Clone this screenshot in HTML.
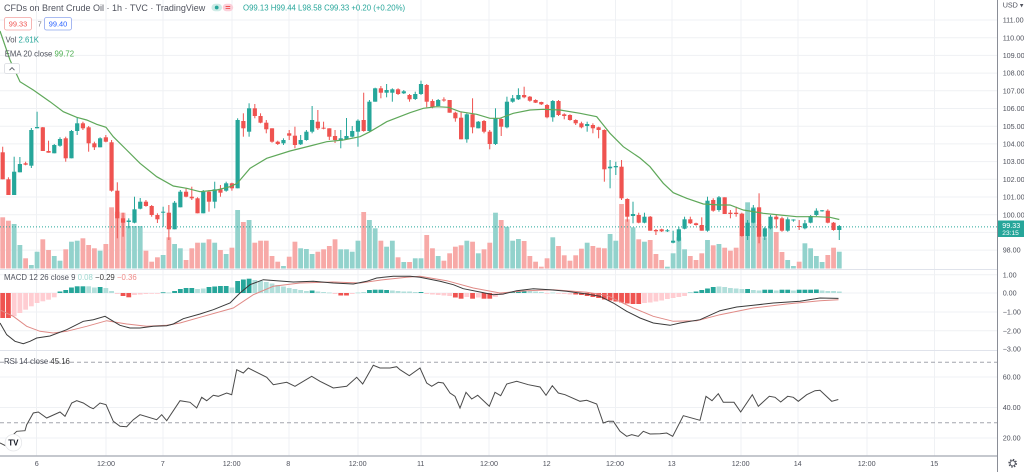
<!DOCTYPE html>
<html><head><meta charset="utf-8">
<style>
html,body{margin:0;padding:0;background:#fff;width:1024px;height:472px;overflow:hidden;}
svg{position:absolute;left:0;top:0;font-family:"Liberation Sans",Arial,sans-serif;}
.ax{font-size:7.2px;fill:#50535e;}
.lg{font-size:7.8px;fill:#50535e;}
</style></head>
<body>
<svg width="1024" height="472" viewBox="0 0 1024 472" xmlns="http://www.w3.org/2000/svg">
<rect x="0" y="0" width="1024" height="472" fill="#fff"/>
<!-- grid -->
<g stroke="#eff1f4" stroke-width="1">
<path d="M36.5 0V456M106 0V456M163 0V456M232 0V456M289 0V456M358 0V456M421 0V456M489 0V456M547 0V456M615.5 0V456M672 0V456M741 0V456M798 0V456M867 0V456M934.5 0V456"/>
<path d="M0 20H997M0 37.7H997M0 55.4H997M0 73.1H997M0 90.8H997M0 108.5H997M0 126.2H997M0 143.9H997M0 161.6H997M0 179.3H997M0 197H997M0 214.7H997M0 232.4H997M0 250.1H997"/>
<path d="M0 274.7H997M0 293H997M0 312H997M0 330.7H997M0 377H997M0 407.5H997M0 438H997"/>
</g>
<!-- pane separators -->
<path d="M0 269.5H997M0 350.5H997" stroke="#e0e3eb" stroke-width="1"/>
<!-- volume -->
<g id="vol"></g>
<!-- price line -->
<path d="M0 226.9H997" stroke="#26a69a" stroke-width="1" stroke-dasharray="1 2"/>
<!-- candles -->
<g id="cdl"></g>
<!-- EMA -->
<polyline fill="none" stroke="#5fa85a" stroke-width="1.2" points="0,31 10,60 20,81.7 33.3,90 50,101.7 63.3,111.7 76.7,117.3 86.7,120 96.7,124.3 106,127.3 113.3,136.7 126.7,150 140,163.3 156.7,176.7 173.3,186 186.7,188.3 200,191.7 216.7,190 230,186.7 237.3,183.3 250,168.3 266.7,158.3 290,151 310,146 326.7,141.7 343.3,140 360,136.7 370,131.7 386.7,121.7 410,112.7 423.3,108.3 436.7,106.7 448.3,107.3 460,111.7 476.7,114.3 490,118.3 500,118.3 513.3,113.3 530,110 543.3,109.3 560,110 580,113.3 596.7,116.7 610,133.3 623.3,146.7 640,158 650,166.7 663.3,183.3 673.3,192.7 686.7,198.3 703.3,204 720,205 730,205 743.3,210 763.3,213.3 780,215 796.7,216.7 816.7,216.7 830,217.3 839.3,219.5"/>
<!-- MACD histogram -->
<g id="hist"></g>
<polyline fill="none" stroke="#e08a86" stroke-width="1" points="0,310 13.3,316.3 26.7,326.3 40,331.3 53.3,333 66.7,331.3 86.7,326.3 106.7,320.7 126.7,324 146.7,326.3 166.7,325.3 180,323 200,317.3 233.3,308 253.3,294.7 273.3,286.3 300,283 333.3,282 360,283 383.3,279.7 406.7,277.3 420,276.3 446.7,280.7 473.3,288 500,293 526.7,290.7 553.3,289.7 586.7,292.3 606.7,295.3 633.3,308 653.3,316.3 673.3,321.3 696.7,320.7 720,314.7 753.3,308 786.7,304 820,300.7 838.5,299.7"/>
<polyline fill="none" stroke="#3a3a3a" stroke-width="1" points="0,323 6.7,334.7 15,341.3 23.3,343.7 30,341.3 36.7,338 50,336 66.7,329.7 83.3,321.3 93.3,319.7 105,316.3 113.3,321.3 120,325.3 130,328 140,328 153.3,326.3 166.7,325.7 173.3,324 183.3,318.7 200,314 213.3,309.7 230,303 240,293 250,284.7 263.3,279.7 276.7,280.7 293.3,282 313.3,281.3 333.3,283 353.3,284 366.7,281.3 376.7,278 393.3,276.3 410,276.3 420,277.3 440,281.3 453.3,284.7 463.3,288.7 480,292 493.3,294.7 503.3,294 516.7,290.7 533.3,288.7 550,289.7 566.7,291.3 586.7,294 600,296.3 613.3,303 626.7,311.3 640,318 653.3,323 670,325.3 680,323 700,319.7 720,310.7 736.7,307 753.3,305.3 773.3,303 800,301.3 820,298 838.5,298.4"/>
<!-- RSI -->
<path d="M0 362.3H997M0 422.7H997" stroke="#a3a6ae" stroke-width="1" stroke-dasharray="4 3"/>
<polyline fill="none" stroke="#4a4a4a" stroke-width="1" points="0,443 6.7,446.3 13.3,434.7 16.7,431.3 25,430.7 26.7,424.7 33.3,413 38.3,412 46.7,418 60,412 65,416.3 71.7,403 76.7,400.7 83.3,403 90,407.3 93.3,408.7 100,403 106,404.7 113.3,421.3 120,426.3 126.7,426.7 133.3,419.7 140,414.7 156.7,419.7 161.7,414.7 166.7,420.7 180,400.7 190,402.3 196.7,408 201.7,397.3 206.7,400.7 213.3,395.3 218.3,396.3 226.7,393 231.7,394.7 236.7,369.7 243.3,373 248.3,368 266.7,377.3 273.3,384.7 286.7,382.3 295,386.3 311.7,376.3 320,381.3 333.3,388 346.7,386.3 356.7,377.3 362.7,384 373.3,365.3 380,368 390,368 396.7,366.7 400,369.7 409.3,375.7 420,368 426.7,383 431.7,386.3 438.3,382.3 443.3,383 450,393 455,396.3 460,408 466,392.3 471.7,399 477.7,395.3 489.3,406.3 495,392.3 500.7,395.7 506.7,384 516.7,381.3 528.3,384.7 540,387 546,395.3 552.3,385.7 558.3,393 565,394.7 580,401.3 586.7,400.3 596.7,404 603.3,423 608.3,421.3 613.3,421.3 620,431.3 626.7,436.3 631.7,434.7 638.3,436.3 643.3,431.3 650,434 660,433.7 666.7,433 672.7,436.3 683.3,415.7 700,420.3 706,396.3 712,400.7 718.3,393.7 723.3,402.3 734,402.3 740.7,412 752.3,394.7 758.3,406.3 769.3,396.3 775,397.3 780.7,402 787.7,396.3 793.3,397.3 798.3,401.3 806.7,394.7 815,390.7 820,390.3 831.7,401.3 838.3,399.5"/>

<!-- axes -->
<path d="M997.5 0V472" stroke="#8a8d96" stroke-width="1"/>
<path d="M0 456H997" stroke="#b2b5be" stroke-width="1.5"/>

<!-- right axis labels -->
<g class="ax">
<text x="1002.7" y="7.5">USD ▾</text>
<text x="1002.7" y="22.6">111.00</text>
<text x="1002.7" y="40.3">110.00</text>
<text x="1002.7" y="58">109.00</text>
<text x="1002.7" y="75.7">108.00</text>
<text x="1002.7" y="93.4">107.00</text>
<text x="1002.7" y="111.1">106.00</text>
<text x="1002.7" y="128.8">105.00</text>
<text x="1002.7" y="146.5">104.00</text>
<text x="1002.7" y="164.2">103.00</text>
<text x="1002.7" y="181.9">102.00</text>
<text x="1002.7" y="199.6">101.00</text>
<text x="1002.7" y="217.3">100.00</text>
<text x="1002.7" y="252.7">98.00</text>
<text x="1002.7" y="277.3">1.00</text>
<text x="1002.7" y="295.6">0.00</text>
<text x="1002.7" y="314.6">−1.00</text>
<text x="1002.7" y="333.3">−2.00</text>
<text x="1002.7" y="351.5">−3.00</text>
<text x="1002.7" y="379.6">60.00</text>
<text x="1002.7" y="410.1">40.00</text>
<text x="1002.7" y="440.6">20.00</text>
</g>
<rect x="998" y="220.5" width="26" height="16.5" fill="#26a69a"/>
<text x="1002.3" y="228.2" font-size="7.2" fill="#fff">99.33</text>
<text x="1002.3" y="234.8" font-size="6.6" fill="#fff">23:15</text>

<!-- time axis -->
<g class="ax" text-anchor="middle">
<text x="36.7" y="466">6</text>
<text x="106" y="466">12:00</text>
<text x="162.7" y="466">7</text>
<text x="231.7" y="466">12:00</text>
<text x="288.3" y="466">8</text>
<text x="357.7" y="466">12:00</text>
<text x="420.7" y="466">11</text>
<text x="489" y="466">12:00</text>
<text x="546.7" y="466">12</text>
<text x="615" y="466">12:00</text>
<text x="671.7" y="466">13</text>
<text x="740.7" y="466">12:00</text>
<text x="797.7" y="466">14</text>
<text x="866.7" y="466">12:00</text>
<text x="934.3" y="466">15</text>
</g>
<!-- gear -->
<circle cx="1012.7" cy="463.3" r="3.6" fill="none" stroke="#50535e" stroke-width="1.6" stroke-dasharray="1.4 1.43"/>
<circle cx="1012.7" cy="463.3" r="2.6" fill="none" stroke="#50535e" stroke-width="0.9"/>

<!-- TV logo -->
<circle cx="13.4" cy="442.7" r="8.3" fill="#fff" stroke="#e6e7ea" stroke-width="0.8"/>
<text x="13.4" y="445.6" font-size="8" font-weight="bold" fill="#131722" text-anchor="middle">TV</text>

<!-- top legend -->
<text x="4" y="11" font-size="9" fill="#50535e">CFDs on Brent Crude Oil · 1h · TVC · TradingView</text>
<rect x="211.5" y="3.8" width="10.5" height="7.4" rx="3.7" fill="#cdebe6"/>
<circle cx="216.7" cy="7.5" r="1.9" fill="#26a69a"/>
<rect x="222.7" y="3.8" width="10.5" height="7.4" rx="3.7" fill="#fbd0da"/>
<path d="M225.6 6.5H230.2M225.6 8.6H230.2" stroke="#ef5350" stroke-width="0.9"/>
<text x="243" y="10.5" font-size="7.8" fill="#26a69a">O99.13 H99.44 L98.58 C99.33 +0.20 (+0.20%)</text>

<rect x="4.5" y="17.5" width="27" height="12.5" rx="2" fill="#fff" stroke="#f3a3a1" stroke-width="0.8"/>
<text x="18" y="26.4" font-size="7.4" fill="#ef5350" text-anchor="middle">99.33</text>
<text x="37.6" y="26.4" font-size="7.4" fill="#787b86">7</text>
<rect x="44.5" y="17.5" width="27" height="12.5" rx="2" fill="#fff" stroke="#8fa6ee" stroke-width="0.8"/>
<text x="58" y="26.4" font-size="7.4" fill="#2962ff" text-anchor="middle">99.40</text>

<text class="lg" x="5.5" y="42.7">Vol <tspan fill="#26a69a">2.61K</tspan></text>
<text class="lg" x="4.7" y="56.7">EMA 20 close <tspan fill="#4caf50">99.72</tspan></text>
<rect x="4.5" y="63.5" width="15" height="10" rx="2" fill="#fff" stroke="#d8dae0" stroke-width="0.8"/>
<path d="M9.5 70.2L12 67.6L14.5 70.2" fill="none" stroke="#50535e" stroke-width="0.9"/>

<text class="lg" x="4" y="280">MACD 12 26 close 9 <tspan fill="#9fd8d0">0.08</tspan> <tspan fill="#3a3a3a">−0.29</tspan> <tspan fill="#ef8a87">−0.36</tspan></text>
<text class="lg" x="4" y="364">RSI 14 close <tspan fill="#3a3a3a">45.16</tspan></text>

<script>
const K=[
['r',152.3,179.3,146.7,179.3],['r',179.3,195,177.3,195],['g',171.7,195,156.7,195],['g',164,172.3,157,172.3],['r',163.3,164.7,161.7,165.3],
['g',130,165.7,128,168],['g',127,128.3,111.7,128.3],['r',127.3,151,127,151],['r',151,152.7,140.7,152.7],['g',145,153.3,144,153.3],
['g',139,145.7,137.3,146.7],['r',138.3,158.3,136.7,161.7],['g',131,158.3,130,158.3],['g',123.3,131,117.7,135],['r',123.3,128.3,121.7,130],
['r',127.3,143.3,126,151.7],['r',143.3,147.3,141.7,150],['g',138.3,147.3,137.3,147.3],['r',137.3,141.7,135,142.3],['r',142.3,190.7,140,191.7],
['r',190.7,218.3,182.3,238.3],['r',218.3,222.7,212.7,236.7],['g',220.5,222,218.3,228.3],['g',209.3,222.7,196.7,223.3],['g',201.7,208.7,198,209.3],
['r',201.7,206,200,206.7],['r',206,215,205,216.7],['r',215,219.3,213.3,223],['g',211.7,212.7,206.7,226.7],['r',212.7,229.3,205,240],
['g',202.7,229.3,201,229.3],['g',191.7,207.3,190,207.3],['r',191.7,196.7,188.3,197.3],['r',196.7,198.3,186.7,200],['r',198.3,213.3,197.3,213.3],
['g',191.7,213.3,190,213.3],['r',191.7,201.7,190,211.7],['g',189.3,201.7,181.7,208.3],['r',189.3,192.7,185,196.7],['g',183.3,190.7,181.7,191.7],
['r',183.3,188.3,182.7,190.7],['g',120,188.3,118.3,188.3],['r',121,128.3,113.3,136.7],['g',108.3,131.7,103.3,136.7],['r',108.3,116,104,118.3],
['r',116,122.7,113.3,123.3],['r',122.7,129.3,120,133.3],['r',128.3,141.7,128.3,142.7],['r',141.7,144,140.7,145],['g',140,143.3,138.3,145],
['r',133.3,135.7,130,140],['r',135.7,145,126.7,148.3],['g',140,144.3,135,145],['g',131.7,140,130,140.7],['g',120,131.7,106,133.3],
['r',121.7,128.3,110,130],['r',127.7,128.7,121.7,129.3],['r',128.3,136.7,128.3,140],['r',136,140,130,143],['g',138.3,140.7,130,148.3],
['g',136,139.3,118,140],['g',131,136.7,126,137.3],['g',120.7,131.7,119.3,146.7],['r',120,131,92.7,131.7],['g',101.7,131,100,131.7],
['g',88.3,101.7,87.7,101.7],['r',88.3,92.7,86,98.3],['g',90,92.7,84,97.3],['g',89.3,92.7,88.3,101.7],['r',89.3,94,88.3,95],
['g',91.3,93.3,90,94],['r',95,99.3,94,101.7],['g',94,99,91.7,100],['g',84,94,80.7,95],['r',85,101.7,84,107.3],
['r',101,107.3,99.3,108.3],['g',100,106,99,106],['r',99.5,100.5,97.3,101.7],['r',100,112.7,100,112.7],['r',112.7,118.3,111.7,121.7],
['r',117.7,139.3,111.7,139.3],['g',114.3,139.3,113.3,142.7],['r',114.3,127.3,98.3,133.3],['g',121.7,128.3,121,128.3],['r',121,131.7,120,133.3],
['r',131.7,144,130,149.3],['g',118.3,144,108.3,145],['r',119,126.7,118.3,136],['g',101.7,127.3,96.7,128.3],['g',98.3,101.7,95,102.7],
['g',95,99.3,88.3,100],['r',95,97.3,86.7,98.3],['r',96.7,100.7,96,101.7],['r',100,102.7,99.3,103],['r',102,104.3,101.7,105],
['r',105,117.3,104,118.3],['g',101,117.3,100,121.7],['r',101,115,100,116],['r',114.3,116,113.3,119.3],['r',115,120,114.3,120.7],
['r',120,123.3,119.3,125],['r',123.3,127.3,121.7,128.3],['g',124,126,121.7,131.7],['r',125,128.3,123.3,133.3],['r',127.3,130,126.7,138.3],
['r',130,169.3,129.3,181.7],['g',166.7,168.3,160,188.3],['g',166,167.3,161.7,175],['r',166.7,198.3,160,200],['r',199,216.7,198.3,221.7],
['g',214,216,201.7,223.3],['r',215,222.7,212.7,223.3],['g',216.7,222.7,212.7,223.3],['r',216.7,230.7,216,230.7],['r',230,231.3,229,235],
['r',229.3,231.3,228.7,232],['g',230.3,231,229,232],['g',240.7,242.7,230.7,243.3],['g',229.3,240.7,226.7,241.7],['g',219.3,228.7,216.7,229.3],
['r',219.3,223.3,216.7,224],['r',223.3,225,222.7,225.7],['r',225,230.7,217.3,230.7],['g',200.7,230.7,196.7,231.7],['r',200,210.7,198.3,211.7],
['g',197.3,210,196,211.7],['r',197.3,214,197.3,214],['r',212.7,214,210,218.3],['r',212.7,214,206.7,216.7],['r',214,236,212.7,236.7],
['g',222.7,236,220,240],['g',208.3,222.7,205,223.3],['r',207.3,236.7,193.3,243.3],['g',228.3,236.7,226.7,240],['g',216.7,228.3,215,229.3],
['r',216.7,219.3,215,228.3],['r',218.3,230.7,216.7,231.7],['g',219.3,230.7,217.3,231.7],['g',219.5,220.5,219.3,221.7],['r',226,227,220,230],
['g',223.3,228.3,220,229.3],['g',216,222.7,215,223.3],['g',210.7,215,208.3,216],['g',210.3,211,210,211.7],['r',210.7,222.7,209.3,223.3],
['r',222.7,230,222,230.7],['g',226,230,225,240]];
const V=[217.3,220.7,224,245,258.3,265,251.7,239.3,250,256,
260.7,249.3,241.7,240.7,238.3,245,248.3,250.7,244,207.3,
211.7,212.7,226,226,226,250.7,261.7,257.3,255,237.3,
244,248.3,260,248.3,242.7,242.7,239.3,242.7,250,254,
247.7,210,222,220,242.7,240.7,240.7,256,261.7,266,
256.7,241.7,248.3,249,254,251.7,249.3,246,239.3,249.3,
249.3,251.7,240.7,212,220,228.3,240.7,246.7,240.7,257.3,
262,262,258.3,258.3,235,248.3,256,260.7,253.3,246.7,
245.3,240.7,241.7,253.3,249.3,242.7,212.7,220,226.7,240.7,
239,241,256,261.7,266.7,258.3,237.3,246,255.3,260.7,
255.3,248.7,242.7,246,247.7,248.3,234,240.7,204,219.3,
227.3,239.3,241.7,240,254,260,266.7,253.3,237.3,249.3,
256,260,253.3,240,245.3,244,247.7,250.7,247.7,213.3,
202.3,207.3,224,237.3,226,232,252,260,266,261.7,
243.3,248.3,256,262,255,247.7,251.7];
const H="R318 R318 r316.3 r313 r309.7 r306.3 r303 r301.3 r299.7 r297.3 G291.5 G290 G287.5 G286.3 G286.3 g286.3 g287.5 G287 g288 g291 r294 R296 R297.3 r295 r294.5 r294 r293.8 r293.5 G292.3 g292.5 G291 G289 G288 G288 g289 g288.5 G287 G286.5 G286 G286 g287.5 G281 G279.5 G278.7 g280 g281 g282 g283.5 g285 g286.5 g288 g289 g290 g291 G290.5 g291.5 g292 g292.5 r294 R295.5 R295.5 r294 g292.5 g292 G290 G289.7 G289.7 G290 g290.5 g291 g291.5 g291.5 g292 G292 r294 r294.5 r295 r295.5 r296 R297.5 R298.7 r297 R298.7 r297.5 R298.7 R298.7 r297 r295 g292 G291.5 G291 G291 g291 g291.5 g292 r293.5 g292.5 r293.5 r294 r294.5 R294.5 R295 R296 R297 R298 R299.5 R300.5 R301.5 R302.5 R303.5 R304 R304 r303 r302.5 r301.5 r300.5 r299 r298 r297 r296 g292 G291.5 G290 G288.5 G287 g286.5 g287 g288 g288.5 g289 G289 g290 g290.5 G289.7 G289.7 g290.5 G289.7 G289.7 g290.5 G289.7 G289.7 G289.7 G289.5 g290.5 g291 g291 g291.5".split(' ');
const NS='http://www.w3.org/2000/svg';
function el(p,t,a){const e=document.createElementNS(NS,t);for(const k in a)e.setAttribute(k,a[k]);p.appendChild(e);return e;}
const vol=document.getElementById('vol'),cdl=document.getElementById('cdl'),hist=document.getElementById('hist');
const HC={G:'#26a69a',g:'#b2dfdb',R:'#ef5350',r:'#ffcdd2'};
K.forEach((k,i)=>{
  const x=2.7+5.73*i, up=k[0]==='g', col=up?'#26a69a':'#ef5350';
  const vt=V[i]; el(vol,'rect',{x:(x-2.4).toFixed(2),y:vt,width:4.8,height:(268.5-vt).toFixed(2),fill:up?'#92d2cc':'#f7a9a7'});
  el(cdl,'rect',{x:(x-0.5).toFixed(2),y:k[3],width:1,height:Math.max(k[4]-k[3],1).toFixed(2),fill:col});
  el(cdl,'rect',{x:(x-2.1).toFixed(2),y:k[1],width:4.2,height:Math.max(k[2]-k[1],1).toFixed(2),fill:col});
  const h=H[i]; if(h){const t=h[0],v=parseFloat(h.slice(1));const y0=Math.min(v,293),y1=Math.max(v,293);
    el(hist,'rect',{x:(x-2.4).toFixed(2),y:y0,width:4.8,height:Math.max(y1-y0,0.8).toFixed(2),fill:HC[t]});}
});
</script>
</svg>
</body></html>
